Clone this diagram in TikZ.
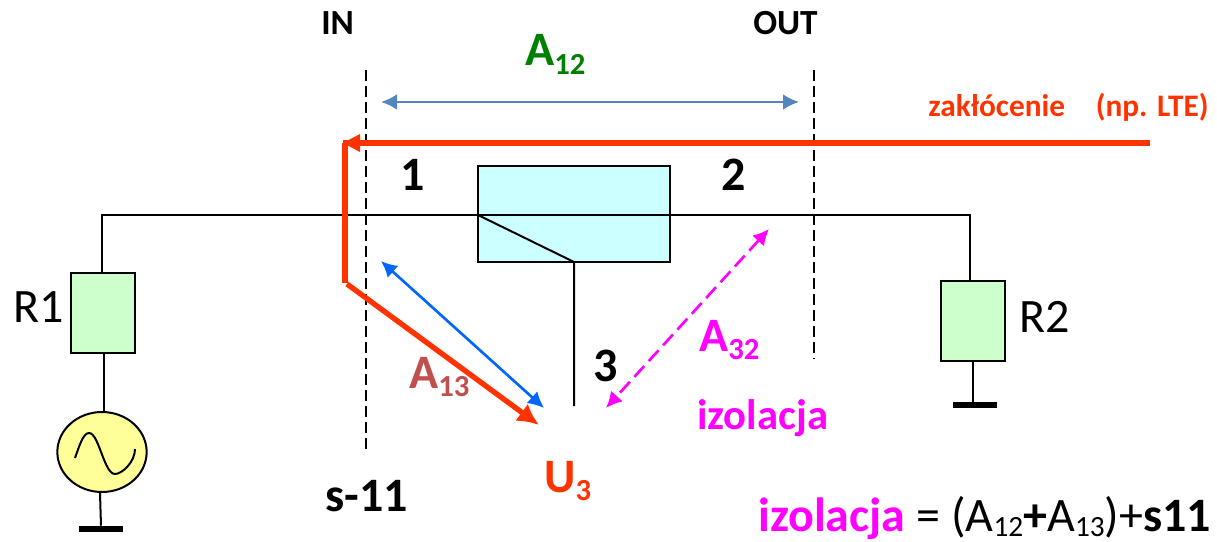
\documentclass[tikz,border=0pt]{standalone}
\usepackage{fontspec}
\setmainfont{Carlito}
\usetikzlibrary{arrows.meta,shapes.geometric}
\definecolor{redline}{HTML}{FF3300}
\definecolor{bluehead}{HTML}{0066FF}
\definecolor{steel}{HTML}{5585BE}
\definecolor{mag}{HTML}{FF00FF}
\definecolor{grn}{HTML}{008000}
\definecolor{brick}{HTML}{C0504D}
\definecolor{cyanfill}{HTML}{CCFFFF}
\definecolor{greenfill}{HTML}{CCFFCC}
\definecolor{yellowfill}{HTML}{FFFF99}
\tikzset{
  wire/.style={draw=black,line width=1.5pt},
  guide/.style={draw=black,line width=1pt,dash pattern=on 8pt off 4pt},
  elem/.style={draw=black,line width=1.5pt,fill=#1,inner sep=0pt},
  groundbar/.style={fill=black,draw=none,inner sep=0pt,minimum width=33pt,minimum height=4.5pt},
  txt/.style={inner sep=0pt,anchor=base west},
}
\newcommand{\Tsz}[1]{\fontsize{#1}{#1}\selectfont}
\newcommand{\subtxt}[1]{\raisebox{-6pt}{\fontsize{23}{23}\selectfont #1}}
\newcommand{\subeq}[1]{\raisebox{-4pt}{\fontsize{22}{22}\selectfont #1}}
\begin{document}
\begin{tikzpicture}[x=0.75pt,y=-0.75pt]
\useasboundingbox (0,0) rectangle (1217,542);
% elements
\node[elem=cyanfill,minimum width=144pt,minimum height=72pt] (sw) at (574,214) {};
\node[elem=greenfill,minimum width=48pt,minimum height=60pt] (r1) at (103,313) {};
\node[elem=greenfill,minimum width=48pt,minimum height=60pt] (r2) at (973,321) {};
\node[draw=black,line width=1.5pt,fill=yellowfill,ellipse,inner sep=0pt,minimum width=67pt,minimum height=60pt] (gen) at (102,452) {};
\node[groundbar] (g1) at (101,529) {};
\node[groundbar] (g2) at (975,405) {};
% named ends
\coordinate (wl) at (102,215);
\coordinate (wr) at (970,215);
\coordinate (swl) at (478,215);
\coordinate (swb) at (574,262);
\coordinate (p3) at (574,406);
\coordinate (in1) at (366,70);
\coordinate (in2) at (366,450);
\coordinate (out1) at (814,70);
\coordinate (out2) at (814,359);
\coordinate (a12l) at (381,102);
\coordinate (a12r) at (799,102);
\coordinate (rs) at (1150,143);
\coordinate (rt) at (343,143);
\coordinate (rv1) at (345,143);
\coordinate (rv2) at (345,283);
\coordinate (rd1) at (347,284);
\coordinate (rd2) at (539,425);
\coordinate (b1) at (381,261);
\coordinate (b2) at (544,408);
\coordinate (m1) at (769,229);
\coordinate (m2) at (606,408);
% wires
\draw[wire] (r1.north -| wl) -- (wl) -- (wr) -- (r2.north -| wr);
\draw[wire] (swl) -- (swb) -- (p3);
\draw[wire] (r1.south -| gen.north) ++(2,0) -- ++(0,59);
\draw[wire] (gen.south -| g1.north) ++(-1,0) -- (g1.north);
\draw[wire] (r2.south) -- (g2.north -| r2.south);
\draw[line width=1.5pt] (75,458) .. controls (79,447) and (83,433) .. (89,433)
  .. controls (99,433) and (104,474) .. (115,474)
  .. controls (122,474) and (135,462) .. (135,449);
% guides
\draw[guide] (in1) -- (in2);
\draw[guide] (out1) -- (out2);
% arrows
\draw[steel,line width=2.2pt,{Latex[length=12pt,width=12pt]}-{Latex[length=12pt,width=12pt]}] (a12l) -- (a12r);
\draw[redline,line width=4pt] (rs) -- (rt |- rs) ;
\draw[redline,line width=4pt] (rv1) -- (rv2);
\fill[redline] (rt) -- (360,134) -- (360,152) -- cycle;
\draw[redline,line width=4pt,-{Latex[length=16pt,width=16pt]}] (rd1) -- (rd2);
\draw[bluehead,line width=2pt,{Latex[length=12pt,width=12pt]}-{Latex[length=12pt,width=12pt]}] (b1) -- (b2);
\draw[mag,line width=2pt,dash pattern=on 11pt off 5pt,{Latex[length=12pt,width=12pt]}-{Latex[length=12pt,width=12pt]}] (m1) -- (m2);
% texts
\node[txt,font=\Tsz{26.5}\bfseries] (in) at (321,35) {IN};
\node[txt,font=\Tsz{26.5}\bfseries] (out) at (753,35) {OUT};
\node[txt,font=\Tsz{36}\bfseries,text=grn] (a12) at (525,66) {A\subtxt{12}};
\node[txt,font=\Tsz{23.5}\bfseries,text=redline] (zak) at (928,117) {zakłócenie\hspace{23pt}(np. LTE)};
\node[txt,font=\Tsz{36}\bfseries] (n1) at (400,190) {1};
\node[txt,font=\Tsz{36}\bfseries] (n2) at (721,190) {2};
\node[txt,font=\Tsz{36}\bfseries] (n3) at (593,381) {3};
\node[txt,font=\Tsz{36}] (lr1) at (13,322) {R1};
\node[txt,font=\Tsz{36}] (lr2) at (1019,332) {R2};
\node[txt,font=\Tsz{36}\bfseries,text=brick] (a13) at (409,388) {A\subtxt{13}};
\node[txt,font=\Tsz{36}\bfseries,text=mag] (a32) at (699,351) {A\subtxt{32}};
\node[txt,font=\Tsz{32}\bfseries,text=mag] (iz) at (697,429) {izolacja};
\node[txt,font=\Tsz{36}\bfseries,text=redline] (u3) at (544,492) {U\subtxt{3}};
\node[txt,font=\Tsz{36}\bfseries] (s11) at (325,511) {s-11};
\node[txt,font=\Tsz{36}] (eq) at (758,531) {\textbf{\textcolor{mag}{izolacja}} = (A\subeq{12}\textbf{+}A\subeq{13})+\textbf{s11}};
\end{tikzpicture}
\end{document}
